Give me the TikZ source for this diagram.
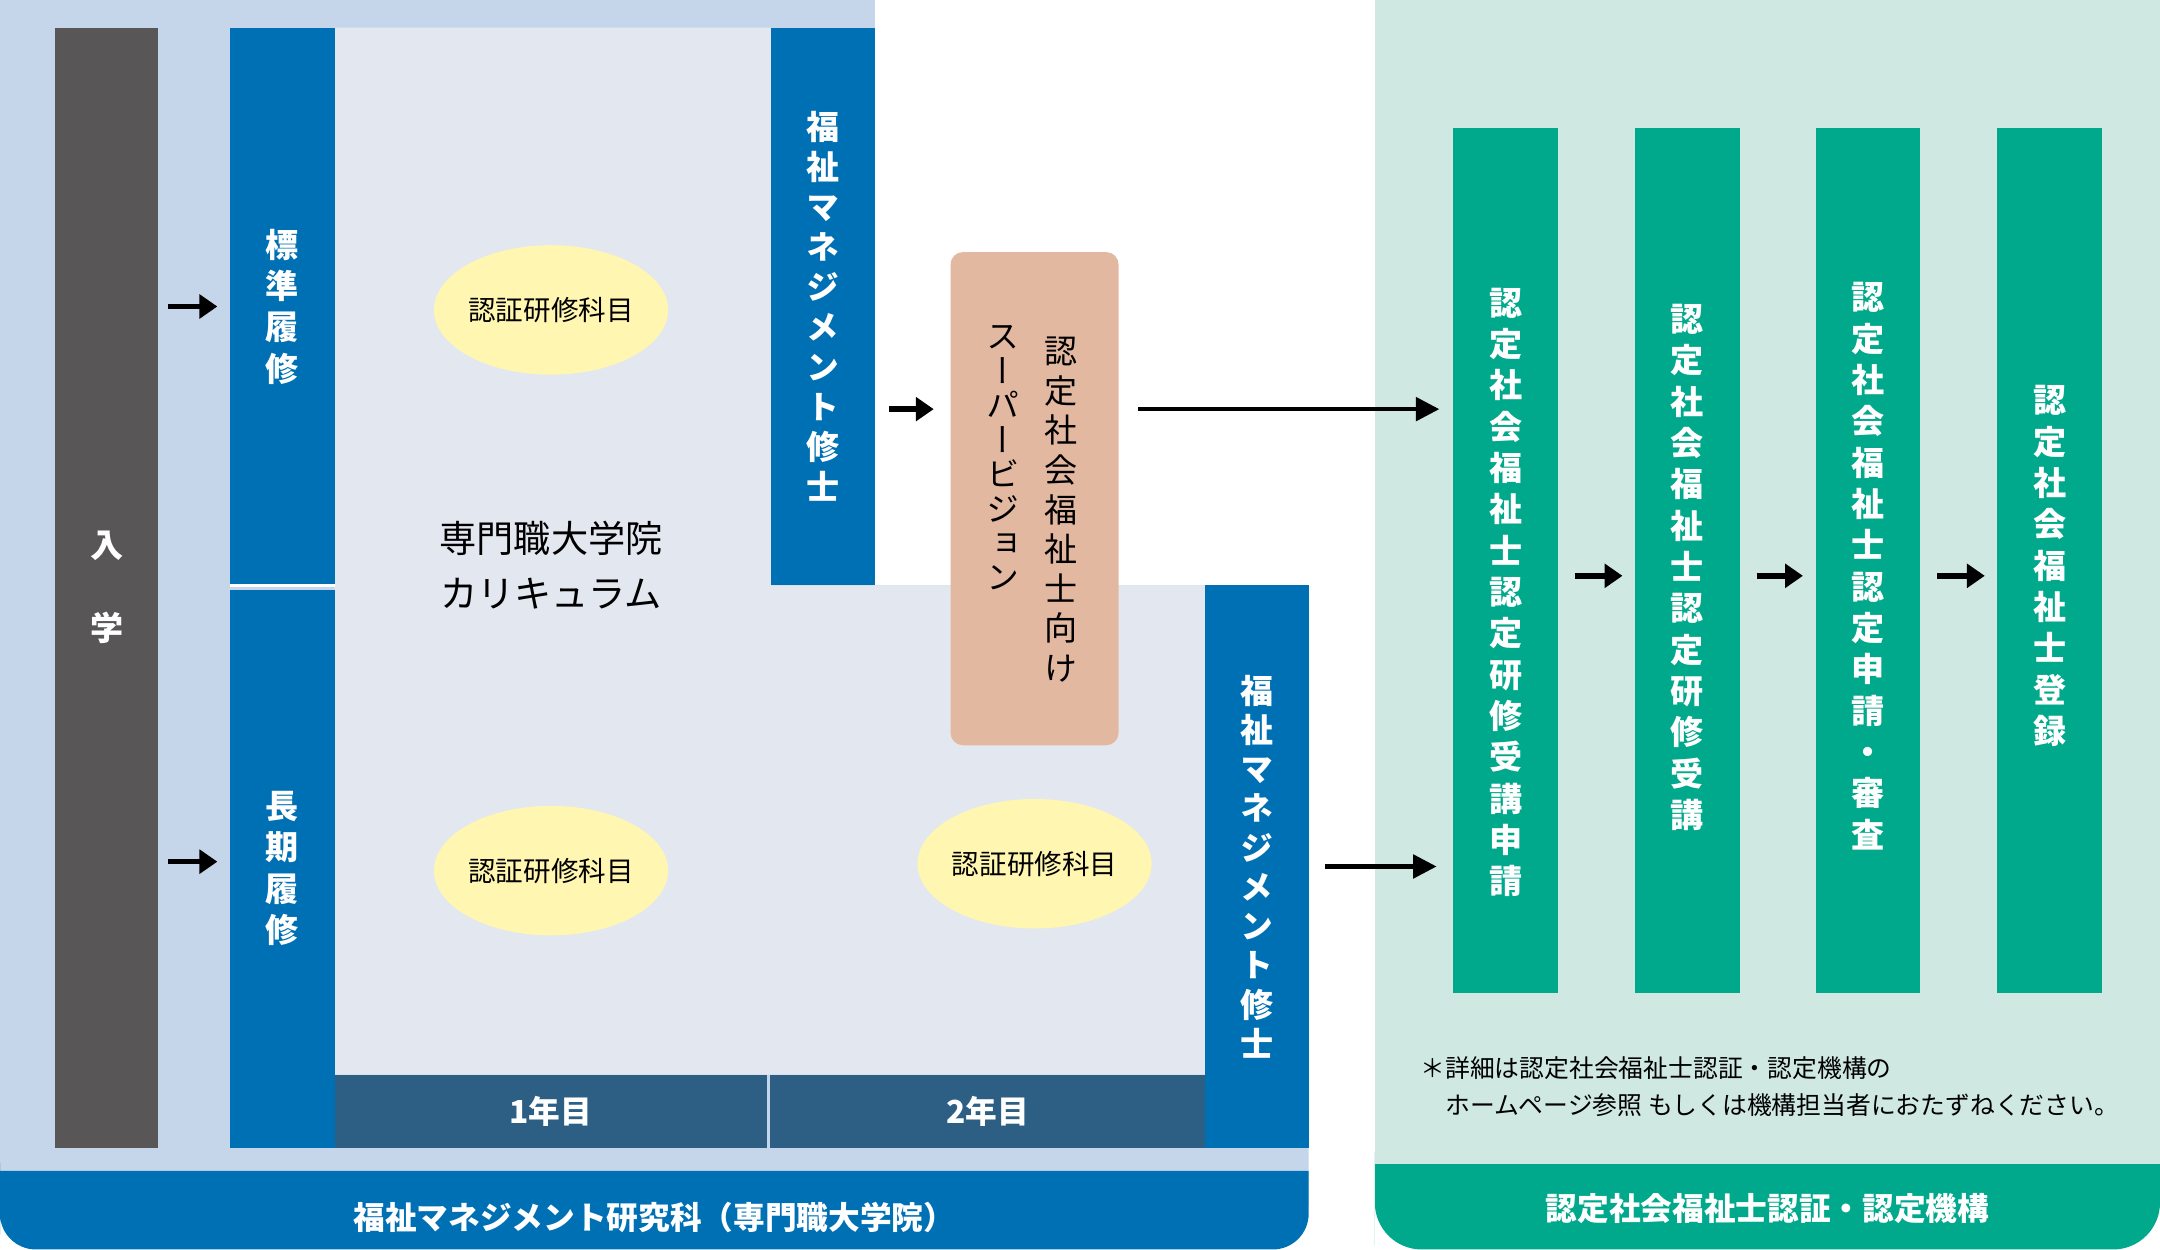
\documentclass[tikz,border=0pt]{standalone}
\usepackage{fontspec}
\setmainfont{Noto Sans CJK JP}
\newfontfamily\vfont[RawFeature=+vert]{Noto Sans CJK JP}
\usepackage{tikz}
\usetikzlibrary{arrows.meta,shapes.geometric,calc}
\definecolor{lightbl}{HTML}{C5D5EA}
\definecolor{currc}{HTML}{E3E7F0}
\definecolor{bluec}{HTML}{0070B5}
\definecolor{grayc}{HTML}{595657}
\definecolor{yearc}{HTML}{2C5F83}
\definecolor{yellowc}{HTML}{FFF6B1}
\definecolor{pinkc}{HTML}{E3B8A0}
\definecolor{mintc}{HTML}{CFE8E1}
\definecolor{greenc}{HTML}{00A88C}
% characters stacked top to bottom
\makeatletter
\newcommand\vchars[2][30pt]{\vbox{\baselineskip=#1\lineskiplimit=-100pt\vchars@#2\@nil}}
\def\vchars@#1{\ifx#1\@nil\else\hbox to 1.2em{\hss#1\hss}\expandafter\vchars@\fi}
\makeatother
\tikzstyle{bluecol}=[rectangle, fill=bluec, text=white, inner sep=0pt,%
font=\vfont\bfseries\fontsize{24}{30}\selectfont]
\tikzstyle{greencol}=[rectangle, fill=greenc, minimum width=76pt, minimum height=628pt, inner sep=0pt]
\tikzstyle{gtxt}=[text=white, inner sep=0pt, font=\vfont\bfseries\fontsize{24}{30}\selectfont]
\tikzstyle{svtxt}=[inner sep=0pt, font=\vfont\fontsize{24}{24}\selectfont]
\tikzstyle{subj}=[ellipse, fill=yellowc, minimum width=170pt, minimum height=94pt, inner sep=0pt,%
font=\fontsize{20}{20}\selectfont]
\tikzstyle{yearbox}=[rectangle, fill=yearc, minimum height=53pt, inner sep=0pt, text=white,%
font=\bfseries\fontsize{23}{23}\selectfont]
\tikzstyle{bandtxt}=[text=white, font=\bfseries\fontsize{23}{23}\selectfont]
\tikzstyle{fat}=[-{Triangle[length=13pt,width=17pt]}, line width=4pt]
\tikzstyle{long}=[-{Triangle[length=17pt,width=17pt]}, line width=3pt]

\begin{document}
\begin{tikzpicture}[x=1pt,y=-1pt]
\path[use as bounding box] (0,0) rectangle (1568,907);
% backgrounds
\fill[lightbl] (0,0) -- (635,0) -- (635,425) -- (950,425) -- (950,875) -- (0,875) -- cycle;
\fill[bluec] (0,850) -- (950,850) -- (950,870) [rounded corners=26pt] -- (950,907) -- (0,907) -- (0,870) [sharp corners] -- cycle;
\fill[currc] (243,20) -- (560,20) -- (560,425) -- (875,425) -- (875,780) -- (243,780) -- cycle;
\fill[mintc] (998,0) -- (1568,0) -- (1568,875) -- (998,875) -- cycle;
\fill[greenc] (998,845) -- (1568,845) -- (1568,870) [rounded corners=34pt] -- (1568,907) -- (998,907) -- (998,870) [sharp corners] -- cycle;
\node[bandtxt] (band) at (475,884) {福祉マネジメント研究科（専門職大学院）};
\node[bandtxt] (band2) at (1283,877) {認定社会福祉士認証・認定機構};

% school side
\node[bluecol, fill=grayc, minimum width=75pt, minimum height=813pt] (nyu) at (77.5,426.5) {\vchars[60pt]{入学}};
\node[bluecol, minimum width=76pt, minimum height=405pt] (hyojun) at (205,222.5) {\vchars{標準履修}};
\node[bluecol, minimum width=76pt, minimum height=405pt] (choki) at (205,630.5) {\vchars{長期履修}};
\draw[white, line width=2.5pt] (hyojun.south west) -- (hyojun.south east);
\node[bluecol, minimum width=75pt, minimum height=405pt] (shushiA) at (597.5,222.5) {\vchars[29pt]{福祉マネジメント修士}};
\node[bluecol, minimum width=75pt, minimum height=408pt] (shushiB) at (912.5,629) {\vchars[28.5pt]{福祉マネジメント修士}};
\node[yearbox, minimum width=314pt] (y1) at (400,806.5) {1年目};
\node[yearbox, minimum width=316pt] (y2) at (717,806.5) {2年目};
\node[subj] (s1) at (400,225) {認証研修科目};
\node[subj] (s2) at (400,632) {認証研修科目};
\node[subj] (s3) at (751,627) {認証研修科目};
\node[align=center, font=\fontsize{27}{40}\selectfont] (curri) at (400,410) {専門職大学院\\カリキュラム};

% supervision
\node[rectangle, rounded corners=9pt, fill=pinkc, minimum width=122pt, minimum height=358pt] (sv) at (751,362) {};
\node[svtxt] (svR) at (770,370) {\vchars[28.75pt]{認定社会福祉士向け}};
\node[svtxt] (svL) at (728,332.5) {\vchars[25pt]{スーパービジョン}};

% certification side
\node[greencol] (g1) at (1093,407) {};
\node[greencol] (g2) at (1225,407) {};
\node[greencol] (g3) at (1356,407) {};
\node[greencol] (g4) at (1488,407) {};
\node[gtxt] (gt1) at (1093,430) {\vchars{認定社会福祉士認定研修受講申請}};
\node[gtxt] (gt2) at (1225,412) {\vchars{認定社会福祉士認定研修受講}};
\node[gtxt] (gt3) at (1356,411) {\vchars{認定社会福祉士認定申請・審査}};
\node[gtxt] (gt4) at (1488,411) {\vchars{認定社会福祉士登録}};
\node[anchor=west, align=left, inner sep=0pt, font=\fontsize{18}{27}\selectfont] (note) at (1031,789)
  {＊詳細は認定社会福祉士認証・認定機構の\\\hspace*{1em}ホームページ参照 もしくは機構担当者におたずねください。};

% arrows
\draw[fat, shorten <=7pt, shorten >=9pt] (nyu.east |- hyojun.west) -- (hyojun.west);
\draw[fat, shorten <=7pt, shorten >=9pt] ([yshift=5pt]choki.west -| nyu.east) -- ([yshift=5pt]choki.west);
\draw[fat, shorten <=10pt, shorten >=12pt] ([yshift=65pt]sv.west -| shushiA.east) -- ([yshift=65pt]sv.west);
\draw[long, shorten <=14pt, shorten >=10pt] ([yshift=65pt]sv.east) -- ([yshift=65pt]sv.east -| g1.west);
\draw[long, shorten <=12pt, shorten >=12pt] (shushiB.east) -- (shushiB.east -| g1.west);
\foreach \a/\b in {g1/g2,g2/g3,g3/g4}
  \draw[fat, shorten <=12pt, shorten >=9pt] ([yshift=-11pt]\a.east) -- ([yshift=-11pt]\b.west);
\end{tikzpicture}
\end{document}
